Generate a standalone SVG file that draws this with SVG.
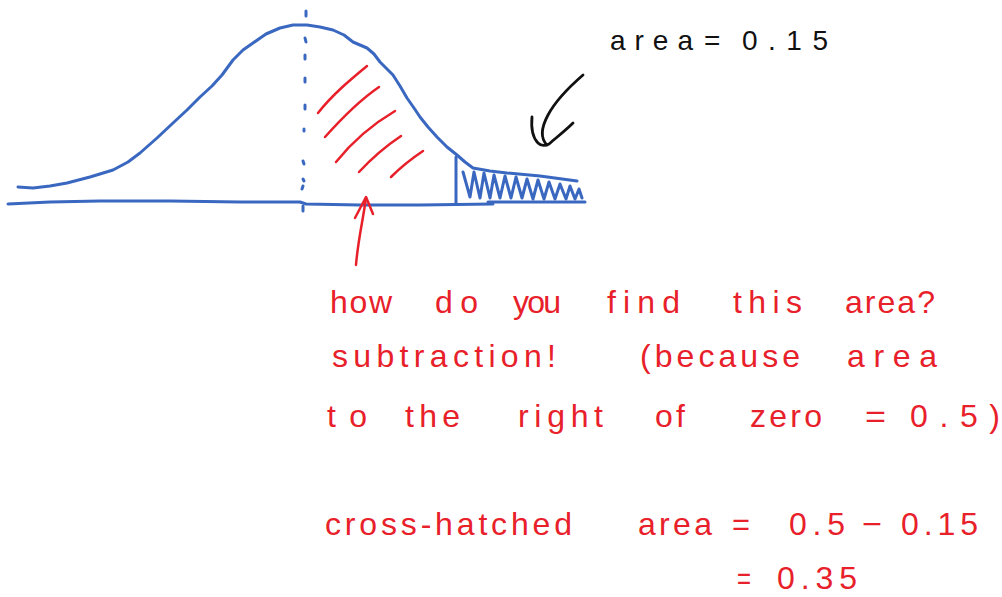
<svg xmlns="http://www.w3.org/2000/svg" width="1002" height="597" viewBox="0 0 1002 597">
<style>
.blue{fill:none;stroke:#3a68c0;stroke-width:3;stroke-linecap:round;stroke-linejoin:round}
.red{fill:none;stroke:#e8202a;stroke-width:2.5;stroke-linecap:round;stroke-linejoin:round}
.blk{fill:none;stroke:#111;stroke-width:2.8;stroke-linecap:round;stroke-linejoin:round}
.rt{fill:#e8202a;font-family:"Liberation Sans",Arial,sans-serif;font-size:32px}
.bt{fill:#111;font-family:"Liberation Sans",Arial,sans-serif;font-size:28px}
</style>
<rect width="1002" height="597" fill="#ffffff"/>
<g id="axis">
<path class="blue" d="M8,204 L50,202 L100,201 L170,201 L240,202 L300,202 L306,204 L360,205 L420,205 L493,204"/>
<path class="blue" d="M488,202 L540,202 L585,202"/>
<path class="blue" stroke-width="2" d="M306,11 L306,16 M305,38 L306,42 M305,55 L305,59 M305,78 L305,82 M305,105 L305,109 M304,129 L304,131 M303,161 L304,164 M303,179 L304,181 M303,186 L302,189 M303,206 L303,211"/>
</g>
<g id="curve">
<path class="blue" d="M18,187 L33,188 L50,186 L67,183 L90,177 L113,170 L128,162 L140,153 L157,138 L173,123 L187,110 L200,97 L212,86 L222,75 L233,60 L243,50 L253,43 L266,34 L280,28 L293,25 L307,25 L320,27 L333,30 L344,35 L353,42 L367,48 L374,54 L380,62 L393,75 L400,86 L407,98 L414,108 L420,117 L428,127 L437,137 L447,147 L457,155 L465,162 L473,168 L490,171 L507,173 L540,176 L577,181"/>
<path class="blue" d="M456,157 L456,203"/>
<path class="blue" stroke-width="3.5" d="M463,172 L470,197 L474,172 L480,198 L484,173 L490,198 L494,175 L500,198 L505,176 L511,198 L516,177 L522,198 L527,179 L533,199 L538,180 L544,199 L549,182 L555,199 L560,184 L566,199 L570,186 L575,199 L579,189 L582,198"/>
</g>
<g id="red-hatch">
<path class="red" d="M318,113 C332,95 350,80 367,66"/>
<path class="red" d="M325,137 C342,118 360,100 379,87"/>
<path class="red" d="M336,162 C352,142 373,124 395,111"/>
<path class="red" d="M359,172 C372,158 386,146 401,136"/>
<path class="red" d="M391,177 C400,168 411,159 423,151"/>
</g>
<g id="red-arrow">
<path class="red" d="M356,265 C358,240 363,220 366,198"/>
<path class="red" d="M355,218 L366,197 L373,214"/>
</g>
<g id="black-arrow">
<path class="blk" d="M583,75 C568,88 556,100 548,115 C541,128 540,138 547,145"/>
<path class="blk" d="M532,117 C531,128 533,138 538,143 C541,146 545,146 549,144 C557,137 566,130 573,123"/>
</g>
<g id="black-label">
<text class="bt" x="610" y="50" textLength="83" lengthAdjust="spacing">area</text>
<text class="bt" x="704" y="50">=</text>
<text class="bt" x="742" y="50" textLength="86" lengthAdjust="spacing">0.15</text>
</g>
<g id="red-text">
<text class="rt" x="330" y="313" textLength="62" lengthAdjust="spacing">how</text>
<text class="rt" x="435" y="313" textLength="43" lengthAdjust="spacing">do</text>
<text class="rt" x="513" y="313" textLength="48" lengthAdjust="spacing">you</text>
<text class="rt" x="607" y="313" textLength="73" lengthAdjust="spacing">find</text>
<text class="rt" x="733" y="313" textLength="69" lengthAdjust="spacing">this</text>
<text class="rt" x="845" y="313" textLength="90" lengthAdjust="spacing">area?</text>
<text class="rt" x="332" y="367" textLength="224" lengthAdjust="spacing">subtraction!</text>
<text class="rt" x="640" y="367" textLength="160" lengthAdjust="spacing">(because</text>
<text class="rt" x="847" y="367" textLength="90" lengthAdjust="spacing">area</text>
<text class="rt" x="327" y="427" textLength="40" lengthAdjust="spacing">to</text>
<text class="rt" x="405" y="427" textLength="55" lengthAdjust="spacing">the</text>
<text class="rt" x="518" y="427" textLength="85" lengthAdjust="spacing">right</text>
<text class="rt" x="655" y="427" textLength="30" lengthAdjust="spacing">of</text>
<text class="rt" x="750" y="427" textLength="72" lengthAdjust="spacing">zero</text>
<text class="rt" x="865" y="427" textLength="21" lengthAdjust="spacingAndGlyphs">=</text>
<text class="rt" x="910" y="427" textLength="90" lengthAdjust="spacing">0.5)</text>
<text class="rt" x="325" y="535" textLength="247" lengthAdjust="spacing">cross-hatched</text>
<text class="rt" x="638" y="535" textLength="74" lengthAdjust="spacing">area</text>
<text class="rt" x="732" y="535" textLength="18" lengthAdjust="spacingAndGlyphs">=</text>
<text class="rt" x="789" y="535" textLength="56" lengthAdjust="spacing">0.5</text>
<text class="rt" x="862" y="535" textLength="20" lengthAdjust="spacingAndGlyphs">−</text>
<text class="rt" x="901" y="535" textLength="77" lengthAdjust="spacing">0.15</text>
<text class="rt" x="737" y="589" textLength="14" lengthAdjust="spacingAndGlyphs">=</text>
<text class="rt" x="777" y="589" textLength="80" lengthAdjust="spacing">0.35</text>
</g>
</svg>
